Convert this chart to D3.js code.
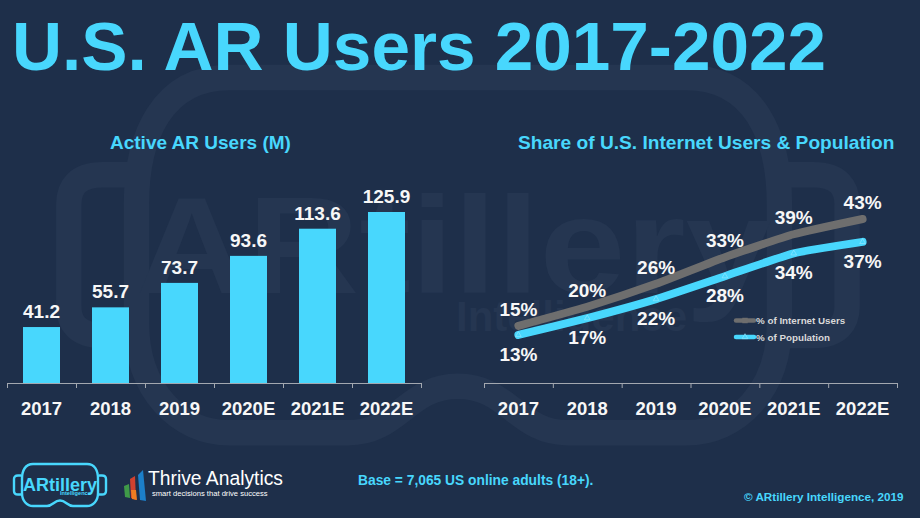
<!DOCTYPE html>
<html lang="en">

<head>
    <meta charset="UTF-8">
    <title>U.S. AR Users 2017-2022</title>
    <script src="https://d3js.org/d3.v7.min.js"></script>
    <style>
        body {
            margin: 0;
            background: #1e2f4a;
        }

        text {
            font-family: "Liberation Sans", Arial, sans-serif;
            font-weight: bold;
        }
    </style>
</head>

<body>
    <div id="chart"></div>
    <script>
        const years = ["2017", "2018", "2019", "2020E", "2021E", "2022E"];
        const activeUsers = [41.2, 55.7, 73.7, 93.6, 113.6, 125.9];
        const internetShare = [15, 20, 26, 33, 39, 43];
        const populationShare = [12.6, 17, 22, 28, 34, 37];

        const width = 920;
        const height = 518;
        const cyan = "#48d7fd";
        const grey = "#6e6e6e";
        const white = "#f7f7f7";
        const axisY = 383;

        // goggles outline, same shape for the watermark and the logo
        const goggles = "M12,1H66C74,1 77,8 77,16V30C77,38 72,43 66,43H52C46,43 45,37.5 39,37.5C33,37.5 32,43 26,43H12C6,43 1,38 1,30V16C1,8 4,1 12,1Z" +
            "M0,12.5H-3C-6,12.5 -7,14 -7,16V28C-7,30 -6,31.5 -3,31.5H0M78,12.5H81C84,12.5 85,14 85,16V28C85,30 84,31.5 81,31.5H78";

        const svg = d3.select("#chart")
            .append("svg")
            .attr("width", width)
            .attr("height", height)
            .style("display", "block");

        svg.append("rect")
            .attr("width", width)
            .attr("height", height)
            .attr("fill", "#1e2f4a");

        // Watermark
        const mark = svg.append("g").attr("fill", "#253651");
        mark.append("path")
            .attr("d", goggles)
            .attr("transform", "translate(128,69) scale(8.46)")
            .attr("fill", "none")
            .attr("stroke", "#253651")
            .attr("stroke-width", 3);
        mark.append("text")
            .attr("transform", "translate(136,293) scale(1.12,1)")
            .attr("font-size", 138)
            .text("ARtillery");
        mark.append("text")
            .attr("x", 456)
            .attr("y", 331)
            .attr("font-size", 42)
            .text("Intelligence");

        // Titles
        svg.append("text")
            .attr("x", 12)
            .attr("y", 70)
            .attr("font-size", 69.3)
            .attr("fill", cyan)
            .text("U.S. AR Users 2017-2022");
        svg.append("text")
            .attr("x", 110)
            .attr("y", 149)
            .attr("font-size", 19)
            .attr("fill", cyan)
            .text("Active AR Users (M)");
        svg.append("text")
            .attr("x", 518)
            .attr("y", 149)
            .attr("font-size", 19.15)
            .attr("fill", cyan)
            .text("Share of U.S. Internet Users & Population");

        function drawAxis(x0, x1) {
            const band = d3.scaleBand().domain(years).range([x0, x1]);
            const edges = d3.scaleLinear().domain([0, years.length]).range([x0, x1]);

            const tickAxis = svg.append("g")
                .attr("transform", `translate(0,${axisY})`)
                .call(d3.axisBottom(edges).tickValues(d3.range(years.length + 1)).tickSize(5).tickFormat(""));
            tickAxis.selectAll("path, line").attr("stroke", "#a3a8b0").attr("stroke-width", 1);

            const labelAxis = svg.append("g")
                .attr("transform", `translate(0,${axisY})`)
                .call(d3.axisBottom(band).tickSize(0).tickPadding(19));
            labelAxis.select(".domain").remove();
            labelAxis.selectAll("text")
                .attr("font-family", null)
                .attr("font-size", 18.5)
                .attr("fill", white);
            return band;
        }

        // Bar chart
        const xBar = drawAxis(7, 421);
        const yBar = d3.scaleLinear().domain([0, 125.9]).range([axisY, 212]);

        svg.selectAll(".bar")
            .data(activeUsers)
            .enter()
            .append("rect")
            .attr("class", "bar")
            .attr("x", (d, i) => xBar(years[i]) + xBar.bandwidth() / 2 - 18.5)
            .attr("y", d => yBar(d))
            .attr("width", 37)
            .attr("height", d => axisY - yBar(d))
            .attr("fill", cyan);

        svg.selectAll(".bar-label")
            .data(activeUsers)
            .enter()
            .append("text")
            .attr("class", "bar-label")
            .attr("x", (d, i) => xBar(years[i]) + xBar.bandwidth() / 2)
            .attr("y", d => yBar(d) - 9)
            .attr("text-anchor", "middle")
            .attr("font-size", 19)
            .attr("fill", white)
            .text(d => d);

        // Line chart
        const xLine = drawAxis(484, 897);
        const yLine = d3.scaleLinear().domain([0, 43]).range([axisY, 219]);
        const line = d3.line()
            .x((d, i) => xLine(years[i]) + xLine.bandwidth() / 2)
            .y(d => yLine(d))
            .curve(d3.curveCardinal.tension(0.5));

        const series = [
            { values: internetShare, color: grey, offset: -10 },
            { values: populationShare, color: cyan, offset: 26 }
        ];

        series.forEach(function (s) {
            svg.append("path")
                .attr("d", line(s.values))
                .attr("fill", "none")
                .attr("stroke", s.color)
                .attr("stroke-width", 8)
                .attr("stroke-linecap", "round");

            svg.append("g").selectAll("text")
                .data(s.values)
                .enter()
                .append("text")
                .attr("x", (d, i) => xLine(years[i]) + xLine.bandwidth() / 2)
                .attr("y", d => yLine(d) + s.offset)
                .attr("text-anchor", "middle")
                .attr("font-size", 19)
                .attr("fill", white)
                .text(d => Math.round(d) + "%");
        });

        const triangle = d3.symbol().type(d3.symbolTriangle).size(14);
        svg.selectAll(".pop-point")
            .data(populationShare)
            .enter()
            .append("path")
            .attr("class", "pop-point")
            .attr("d", triangle)
            .attr("transform", (d, i) => `translate(${xLine(years[i]) + xLine.bandwidth() / 2},${yLine(d)})`)
            .attr("fill", "none")
            .attr("stroke", "#8fe6ff")
            .attr("stroke-width", 0.7);

        // Legend
        const legendItems = ["% of Internet Users", "% of Population"];
        const legendColors = [grey, cyan];
        const legend = svg.selectAll(".legend")
            .data(legendItems)
            .enter()
            .append("g")
            .attr("class", "legend")
            .attr("transform", (d, i) => `translate(736,${320.5 + i * 16.5})`);
        legend.append("line")
            .attr("x2", 18)
            .attr("stroke", (d, i) => legendColors[i])
            .attr("stroke-width", 4.5)
            .attr("stroke-linecap", "round");
        legend.append("text")
            .attr("x", 20)
            .attr("y", 3.5)
            .attr("font-size", 9.8)
            .attr("fill", "#d9d9d9")
            .text(d => d);
        svg.append("path")
            .attr("d", d3.symbol().type(d3.symbolSquare).size(30))
            .attr("transform", "translate(745,320.5)")
            .attr("fill", grey);
        svg.append("path")
            .attr("d", triangle)
            .attr("transform", "translate(745,337)")
            .attr("fill", "none")
            .attr("stroke", "#8fe6ff")
            .attr("stroke-width", 0.7);

        // Footer
        svg.append("text")
            .attr("x", 358)
            .attr("y", 485)
            .attr("font-size", 13.8)
            .attr("fill", cyan)
            .text("Base = 7,065 US online adults (18+).");
        svg.append("text")
            .attr("x", 744)
            .attr("y", 501)
            .attr("font-size", 11.7)
            .attr("fill", cyan)
            .text("© ARtillery Intelligence, 2019");

        // ARtillery logo
        const logo = svg.append("g").attr("transform", "translate(21,463)");
        logo.append("path")
            .attr("d", goggles)
            .attr("fill", "none")
            .attr("stroke", cyan)
            .attr("stroke-width", 2.4);
        logo.append("text")
            .attr("x", 2)
            .attr("y", 28)
            .attr("font-size", 18)
            .attr("fill", cyan)
            .text("ARtillery");
        logo.append("text")
            .attr("x", 39)
            .attr("y", 32)
            .attr("font-size", 5.6)
            .attr("fill", cyan)
            .text("Intelligence");

        // Thrive Analytics logo
        const wedges = [
            { points: "124,486 129,484 130,498 125,497", color: "#3f9a48" },
            { points: "130,479 135,476 136,500 131,498", color: "#d2412f" },
            { points: "131,490 136,490 137,500 132,499", color: "#ee7d22" },
            { points: "138,475 143,470 146,501 140,500", color: "#1c7fc9" }
        ];
        svg.selectAll(".wedge")
            .data(wedges)
            .enter()
            .append("polygon")
            .attr("class", "wedge")
            .attr("points", d => d.points)
            .attr("fill", d => d.color);
        svg.append("text")
            .attr("x", 148)
            .attr("y", 485)
            .attr("font-size", 19.3)
            .style("font-weight", "normal")
            .attr("fill", "#ffffff")
            .text("Thrive Analytics");
        svg.append("text")
            .attr("x", 152)
            .attr("y", 496)
            .attr("font-size", 7.6)
            .attr("fill", "#ffffff")
            .style("font-weight", "normal")
            .text("smart decisions that drive success");
    </script>
</body>

</html>
